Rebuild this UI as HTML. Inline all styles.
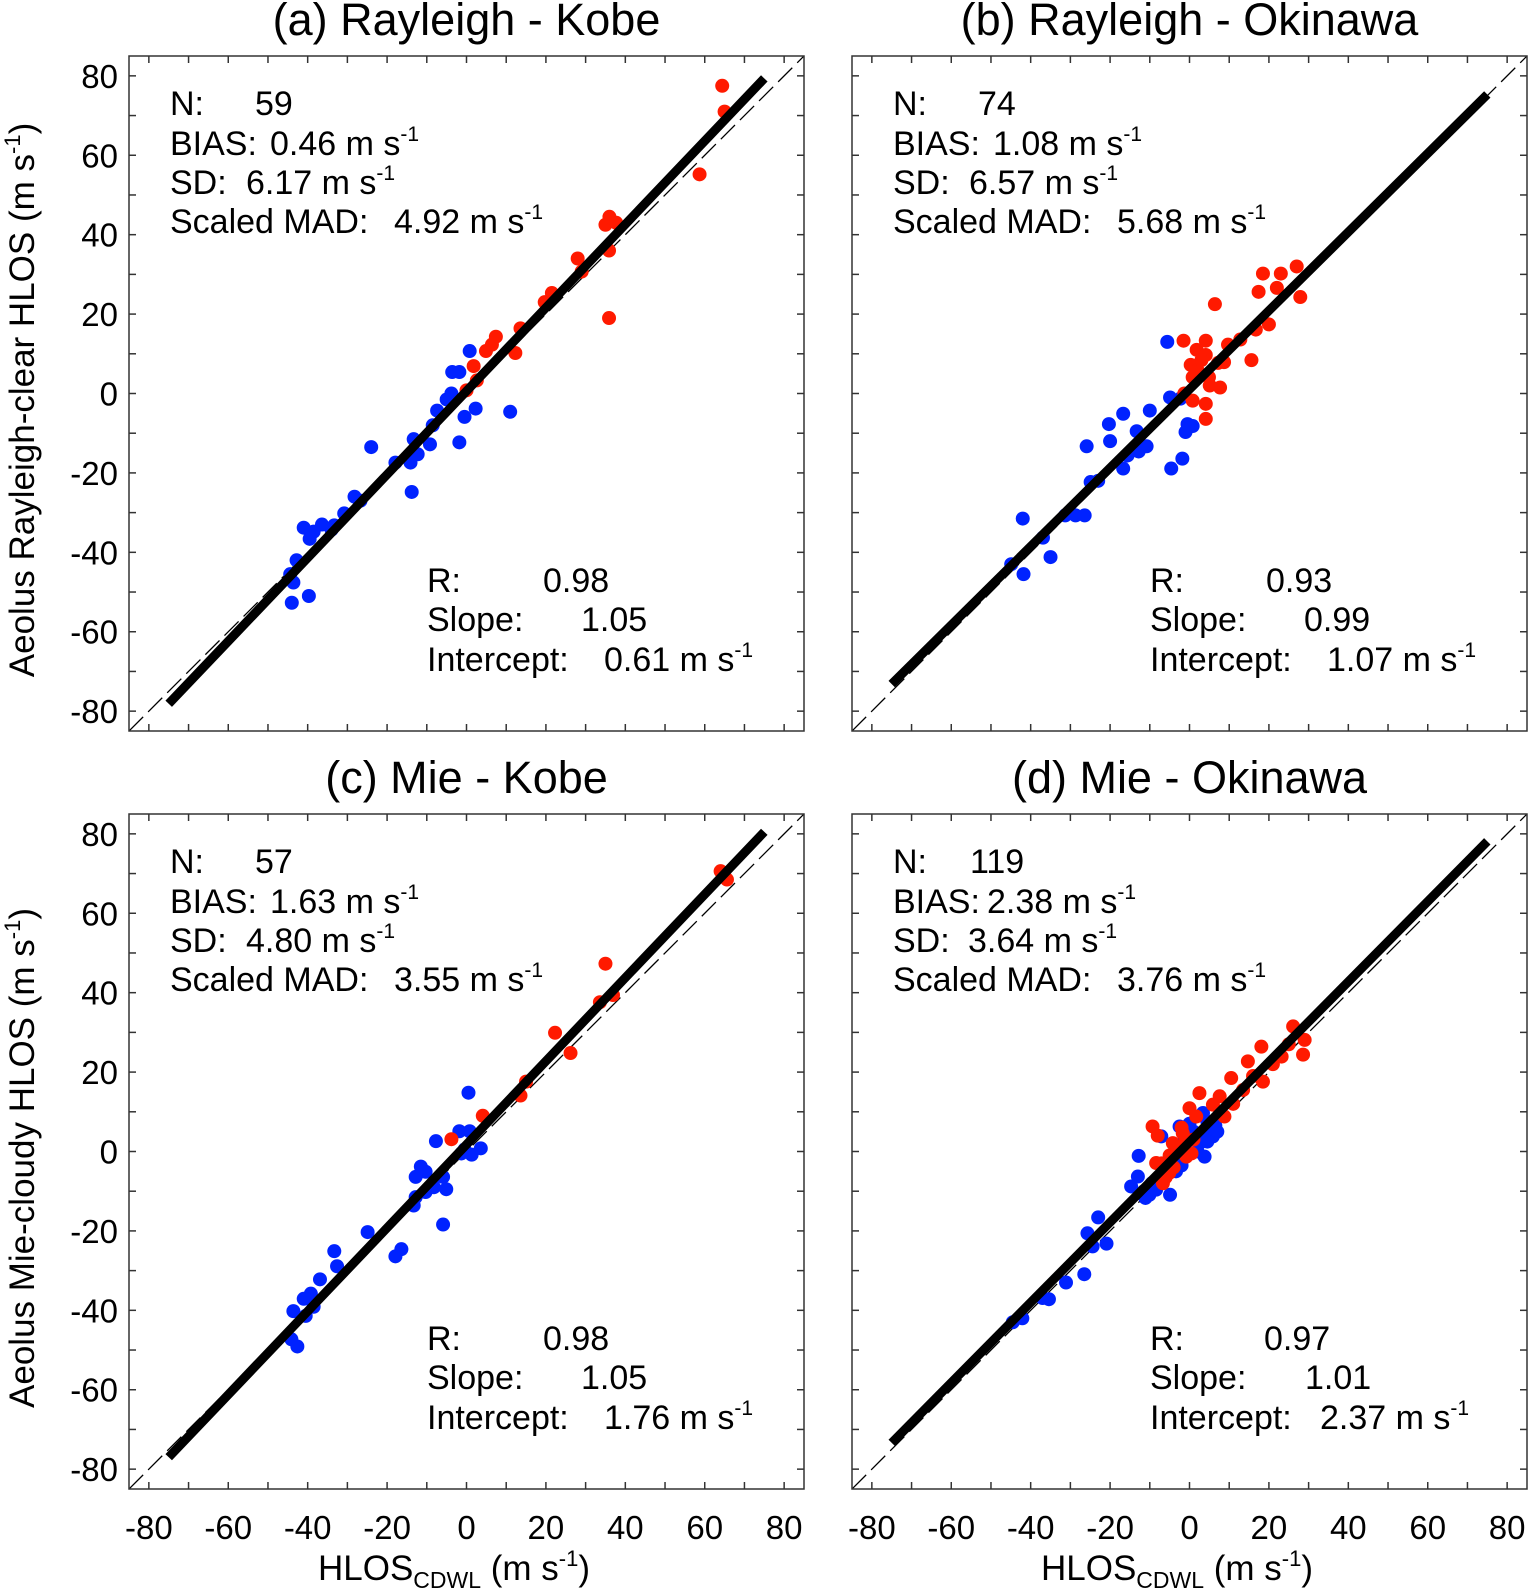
<!DOCTYPE html>
<html><head><meta charset="utf-8"><style>
html,body{margin:0;padding:0;background:#fff;}
svg{display:block;font-family:"Liberation Sans",sans-serif;}
</style></head><body>
<svg id="fig" width="1528" height="1591" viewBox="0 0 1528 1591" xmlns="http://www.w3.org/2000/svg"></svg>
<script>
// ---- data ----
const aBlue = [[0.8,10.7],[11,-4.6],[2.3,-3.8],[-0.5,-5.9],[-1.8,-12.3],[-3.8,0],[-3.6,5.4],[-1.8,5.4],[-5,-1.5],[-7.4,-4.3],[-8.5,-8],[-9.2,-12.8],[-13.3,-11.5],[-12.3,-15.3],[-13.8,-24.8],[-14.1,-17.4],[-17.9,-17.4],[-24,-13.5],[-28.2,-26],[-26.7,-27],[-30.8,-30.2],[-33.3,-33.2],[-36.4,-33],[-34,-34.3],[-38.5,-34.8],[-41,-33.8],[-39.5,-36.6],[-42.8,-42],[-43.6,-47.6],[-44.4,-45.5],[-39.7,-51],[-44,-52.7]];
const aRed = [[64.4,77.5],[65,71],[58.7,55.2],[35,42.5],[36,44.5],[37.7,43],[35.9,36],[28,34],[29,30.7],[21.5,25.3],[19.7,23],[35.9,19],[13.6,16.4],[7.4,14.3],[6.4,12.3],[4.9,10.7],[12.3,10.2],[1.8,6.9],[2.6,3.3],[0,0.8]];
const bBlue = [[-5.6,13],[-4.9,-1],[-2.3,-1.3],[-10,-4.3],[-16.7,-5.1],[-20.3,-7.7],[-20,-12],[-13.3,-9.5],[-10.8,-13.3],[-12.8,-14.6],[-15.6,-15.6],[-16.7,-18.9],[-25.9,-13.3],[-4.6,-18.9],[-1.8,-16.4],[-0.5,-7.7],[0.8,-8.2],[-1,-9.7],[-24.9,-22.3],[-23,-22],[-28.7,-30.7],[-31.3,-30.7],[-26.4,-30.7],[-42,-31.5],[-36.9,-36.3],[-35,-41.2],[-44.9,-43],[-41.8,-45.5]];
const bRed = [[18.5,30.2],[27,32],[23,30.2],[17.4,25.6],[22,26.6],[27.9,24.3],[6.4,22.5],[20,17.4],[16.7,16.1],[12.8,13.6],[9.7,12.3],[15.6,8.4],[4.1,13.3],[-1.5,13.3],[1.8,11],[4.1,9.7],[7.2,7.7],[8.7,7.9],[0.3,7.2],[0.8,4.1],[4.9,4.1],[5.1,2],[7.7,1.5],[4.1,-2.6],[0.8,-1.8],[4.1,-6.4],[-1.3,0],[2,5.9],[3,8.4]];
const cBlue = [[0.5,14.8],[-1.8,5.1],[0.8,5.1],[3.6,0.8],[1.3,-0.8],[-0.5,0.5],[-1.3,-0.5],[-7.7,2.6],[-11.5,-3.8],[-10.3,-5.1],[-5.9,-6.4],[-5.1,-9.5],[-8.2,-9],[-12.8,-6.4],[-10.3,-10.2],[-5.9,-18.4],[-12.8,-11.5],[-13.3,-13.6],[-16.4,-24.6],[-17.9,-26.4],[-24.9,-20.3],[-32.6,-28.9],[-33.3,-25.1],[-36.9,-32.2],[-39.2,-35.8],[-41,-37.1],[-38.5,-39.1],[-40.5,-41.4],[-43.6,-40.2],[-44.1,-47.3],[-42.6,-49.1]];
const cRed = [[64,70.6],[65.6,68.5],[35,47.3],[36.9,39.4],[33.6,37.6],[22.3,29.9],[26.2,24.8],[15,17.6],[13.6,14.1],[4.1,9],[-3.8,3.1]];
const dBlue = [[3.4,9.7],[-2.5,6.3],[-7.1,3.8],[5.1,5.5],[5.9,3.8],[2.5,2.1],[3.8,-1.3],[-1.7,2.1],[-3.4,-5],[-12.8,-1.1],[-13,-6.3],[-14.7,-8.8],[-10.1,-10.9],[-8.4,-9.6],[-4.9,-10.9],[-11.1,-11.7],[-23,-16.6],[-25.7,-20.6],[-24.4,-23.9],[-20.9,-23.2],[-26.5,-30.9],[-31.1,-33],[-35.4,-37.2],[-37,-36.9],[-42.1,-42],[-44.5,-43],[4.5,7.5],[6.5,6.5],[1,5],[-1,3.5],[2,0],[4.5,2.5],[7,5],[0,7],[-4,-2],[-6,-4.5],[-9.5,-8],[-11.5,-10],[3,4.5],[-2,-3.5]];
const dRed = [[26.1,31.5],[29,28.1],[28.6,24.4],[18.1,26.4],[23.2,23.9],[14.7,22.7],[18.5,17.6],[10.5,18.5],[13.5,15.5],[2.5,14.7],[7.6,13.9],[0,10.9],[8.8,8.8],[-9.3,6.3],[-1.7,4.6],[-4.2,2.1],[-8.4,-2.9],[-5.1,-5.4],[-6.7,-8],[-0.8,-1.3],[5.9,11.8],[1.7,8.8],[-2.5,0.4],[-3,1],[-1,2.5],[1,3],[-5,-1],[-7,-3],[-4,-4],[-6,-6.5],[0.5,-0.5],[11,12],[16,19],[21,22],[25,27],[-8,4],[-2,6]];
const slopes = [1.05, 0.99, 1.05, 1.01];
const intercepts = [0.61, 1.07, 1.76, 2.37];
const titles = ["(a) Rayleigh - Kobe","(b) Rayleigh - Okinawa","(c) Mie - Kobe","(d) Mie - Okinawa"];
const statN = ["59","74","57","119"];
const statBias = ["0.46","1.08","1.63","2.38"];
const statSD = ["6.17","6.57","4.80","3.64"];
const statMAD = ["4.92","5.68","3.55","3.76"];
const statR = ["0.98","0.93","0.98","0.97"];
const statSlope = ["1.05","0.99","1.05","1.01"];
const statInt = ["0.61","1.07","1.76","2.37"];
const tickLabels = [-80,-60,-40,-20,0,20,40,60,80];

const NS="http://www.w3.org/2000/svg";
const svg=document.getElementById('fig');
function mk(tag,attrs,parent){const e=document.createElementNS(NS,tag);for(const k in attrs)e.setAttribute(k,attrs[k]);(parent||svg).appendChild(e);return e;}

const panels=[
 {x0:129,y0:56,blue:aBlue,red:aRed,ylab:true,xlab:false,key:'a'},
 {x0:852,y0:56,blue:bBlue,red:bRed,ylab:false,xlab:false,key:'b'},
 {x0:129,y0:814,blue:cBlue,red:cRed,ylab:true,xlab:true,key:'c'},
 {x0:852,y0:814,blue:dBlue,red:dRed,ylab:false,xlab:true,key:'d'}
];
const W=675, VMIN=-85, VMAX=85;
const rX=[543,543,543,541], slX=[581,581,581,582], inX=[604,604,604,597];

panels.forEach((p,i)=>{
  const sx=v=>p.x0+(v-VMIN)/(VMAX-VMIN)*W;
  const sy=v=>p.y0+W-(v-VMIN)/(VMAX-VMIN)*W;
  const g=mk('g',{});
  
  
  const cp=mk('clipPath',{id:'clip'+i},g);
  mk('rect',{x:p.x0,y:p.y0,width:W,height:W},cp);
  const t=mk('text',{x:p.x0+W/2,y:35,'font-size':45,'text-anchor':'middle',fill:'#000'},g);
  if(i>=2) t.setAttribute('y',793);
  t.textContent=titles[i];
  
  
  for(let v=-80;v<=80;v+=10){
    const X=sx(v),Y=sy(v);
    mk('line',{x1:X,y1:p.y0+W,x2:X,y2:p.y0+W-7,stroke:'#333','stroke-width':1.5},g);
    mk('line',{x1:X,y1:p.y0,x2:X,y2:p.y0+7,stroke:'#333','stroke-width':1.5},g);
    mk('line',{x1:p.x0,y1:Y,x2:p.x0+7,y2:Y,stroke:'#333','stroke-width':1.5},g);
    mk('line',{x1:p.x0+W,y1:Y,x2:p.x0+W-7,y2:Y,stroke:'#333','stroke-width':1.5},g);
  }
  if(p.ylab){
    tickLabels.forEach(v=>{
      const tl=mk('text',{x:p.x0-11,y:sy(v)+12,'font-size':33,'text-anchor':'end'},g);
      tl.textContent=v;
      
      
    });
  }
  if(p.xlab){
    tickLabels.forEach(v=>{
      const tl=mk('text',{x:sx(v),y:1539,'font-size':33,'text-anchor':'middle'},g);
      tl.textContent=v;
      
      
    });
  }
  const pg=mk('g',{'clip-path':'url(#clip'+i+')'},g);
  const dl=mk('line',{x1:sx(VMIN),y1:sy(VMIN),x2:sx(VMAX),y2:sy(VMAX),stroke:'#000','stroke-width':1.3,'stroke-dasharray':'20 7'},pg);
  
  
  p.blue.forEach(d=>{
    const c=mk('circle',{cx:sx(d[0]),cy:sy(d[1]),r:7,fill:'#0022ff'},pg);
    
    
  });
  p.red.forEach(d=>{
    const c=mk('circle',{cx:sx(d[0]),cy:sy(d[1]),r:7,fill:'#ff1a00'},pg);
    
    
  });
  const rl=mk('line',{x1:sx(-75),y1:sy(slopes[i]*-75+intercepts[i]),x2:sx(75),y2:sy(slopes[i]*75+intercepts[i]),stroke:'#000','stroke-width':9},pg);
  
  
  const fr=mk('rect',{x:p.x0,y:p.y0,width:W,height:W,fill:'none',stroke:'#333','stroke-width':1.5},g);
  
  
  const ox=p.x0-129, oy=p.y0-56;
  function line(x0,label,val,vx,y,unit){
    const tx=mk('text',{x:x0+ox,y:y+oy,'font-size':34},g);
    
    
    const a=mk('tspan',{},tx);a.textContent=label;
    const b=mk('tspan',{x:vx+ox},tx);b.textContent=val+(unit?' m s':'');
    if(unit){const s=mk('tspan',{'font-size':21,dy:-14},tx);s.textContent='-1';}
  }
  line(170,'N:',statN[i],(i===3?247:255),115,false);
  line(170,'BIAS:',statBias[i],(i===3?264:270),155,true);
  line(170,'SD:',statSD[i],(i===3?245:246),194,true);
  line(170,'Scaled MAD:',statMAD[i],394,233,true);
  line(427,'R:',statR[i],rX[i],592,false);
  line(427,'Slope:',statSlope[i],slX[i],631,false);
  line(427,'Intercept:',statInt[i],inX[i],671,true);
});

function yTitle(cy,txt,name){
  const t=mk('text',{x:0,y:0,'font-size':35,'text-anchor':'middle',transform:'translate(34,'+cy+') rotate(-90)'});
  
  
  const a=mk('tspan',{},t);a.textContent=txt+' (m s';
  const s=mk('tspan',{'font-size':22,dy:-14},t);s.textContent='-1';
  const c=mk('tspan',{dy:14},t);c.textContent=')';
}
yTitle(400,'Aeolus Rayleigh-clear HLOS','y-axis-title-rayleigh');
yTitle(1158,'Aeolus Mie-cloudy HLOS','y-axis-title-mie');
function xTitle(cx,name){
  const t=mk('text',{x:cx,y:1580,'font-size':35,'text-anchor':'middle'});
  
  
  const a=mk('tspan',{},t);a.textContent='HLOS';
  const b=mk('tspan',{'font-size':23,dy:8},t);b.textContent='CDWL';
  const c=mk('tspan',{dy:-8},t);c.textContent=' (m s';
  const s=mk('tspan',{'font-size':22,dy:-14},t);s.textContent='-1';
  const d=mk('tspan',{dy:14},t);d.textContent=')';
}
xTitle(454,'x-axis-title-left');
xTitle(1177,'x-axis-title-right');
</script>
</body></html>
